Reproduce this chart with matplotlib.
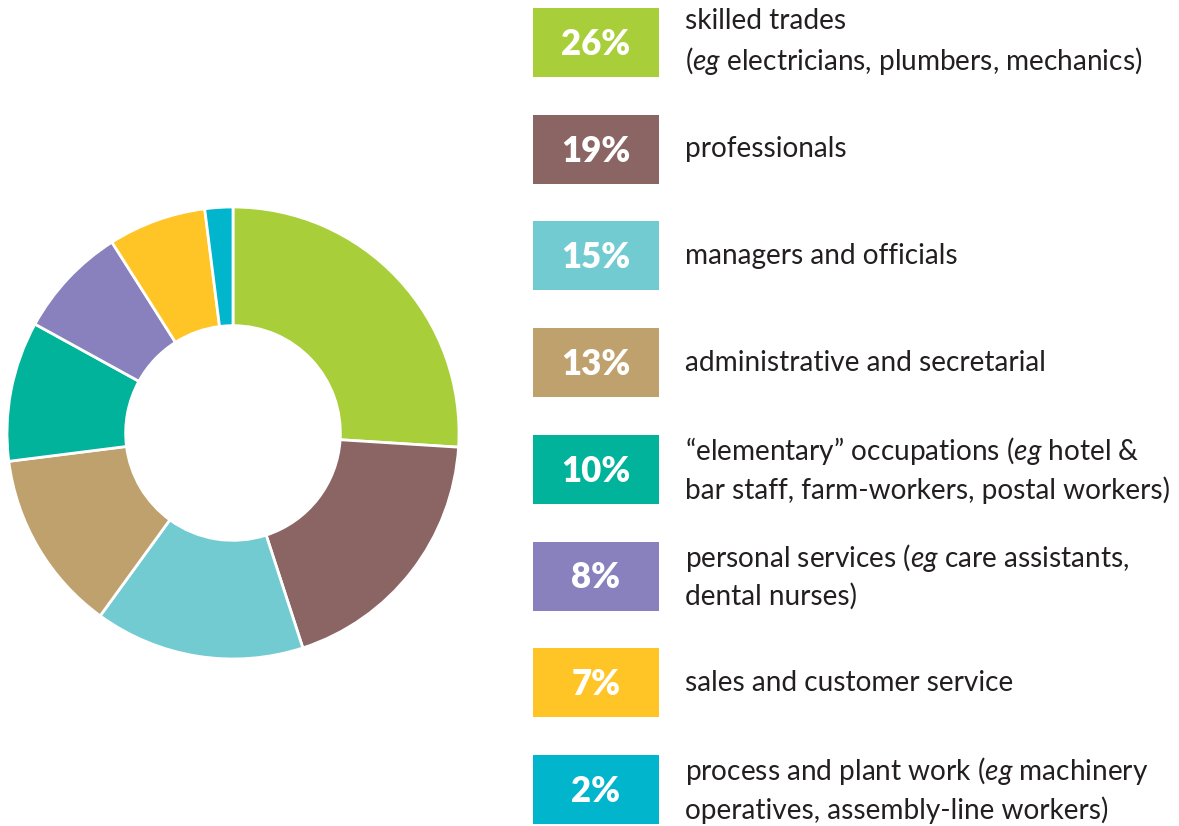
import matplotlib
matplotlib.use("Agg")
from matplotlib import pyplot as plt
from matplotlib.patches import Rectangle

# data: share of each occupation group (%)
shares = [26, 19, 15, 13, 10, 8, 7, 2]
labels = [
    "skilled trades\n($\\mathit{eg}$ electricians, plumbers, mechanics)",
    "professionals",
    "managers and officials",
    "administrative and secretarial",
    "\u201celementary\u201d occupations ($\\mathit{eg}$ hotel &\nbar staff, farm-workers, postal workers)",
    "personal services ($\\mathit{eg}$ care assistants,\ndental nurses)",
    "sales and customer service",
    "process and plant work ($\\mathit{eg}$ machinery\noperatives, assembly-line workers)",
]
colors = ["#A8CE3A", "#8B6464", "#73CBD2", "#BEA16D",
          "#00B39A", "#8981BD", "#FFC425", "#00B5CC"]

plt.rcParams["font.family"] = ["Lato", "DejaVu Sans"]
plt.rcParams["mathtext.fontset"] = "custom"
plt.rcParams["mathtext.rm"] = "Lato"
plt.rcParams["mathtext.it"] = "Lato:italic"

W, H = 1179, 826
fig = plt.figure(figsize=(W / 100, H / 100), dpi=100)
ax = fig.add_axes([0, 0, 1, 1])

# donut
ax.pie(shares, colors=colors, startangle=90, counterclock=False,
       center=(233, H - 433), radius=226, frame=True,
       wedgeprops=dict(width=226 * 0.525, edgecolor="white", linewidth=2))
ax.set_xlim(0, W)
ax.set_ylim(0, H)
ax.set_aspect("equal")
ax.axis("off")

# legend boxes
box_x, box_w, box_h = 533, 126, 69
top, step = 42.5, 106.7
for i, (s, lab, c) in enumerate(zip(shares, labels, colors)):
    yc = H - (top + i * step)
    ax.add_patch(Rectangle((box_x, yc - box_h / 2), box_w, box_h,
                           facecolor=c, edgecolor="none"))
    ax.text(box_x + box_w / 2, yc - 2, f"{s}%", color="white",
            fontsize=25, fontweight="heavy", ha="center", va="center")
    ax.text(685, yc, lab, color="#231f20", fontsize=20.2,
            ha="left", va="center", linespacing=1.42)

fig.savefig("out.png", dpi=100)
